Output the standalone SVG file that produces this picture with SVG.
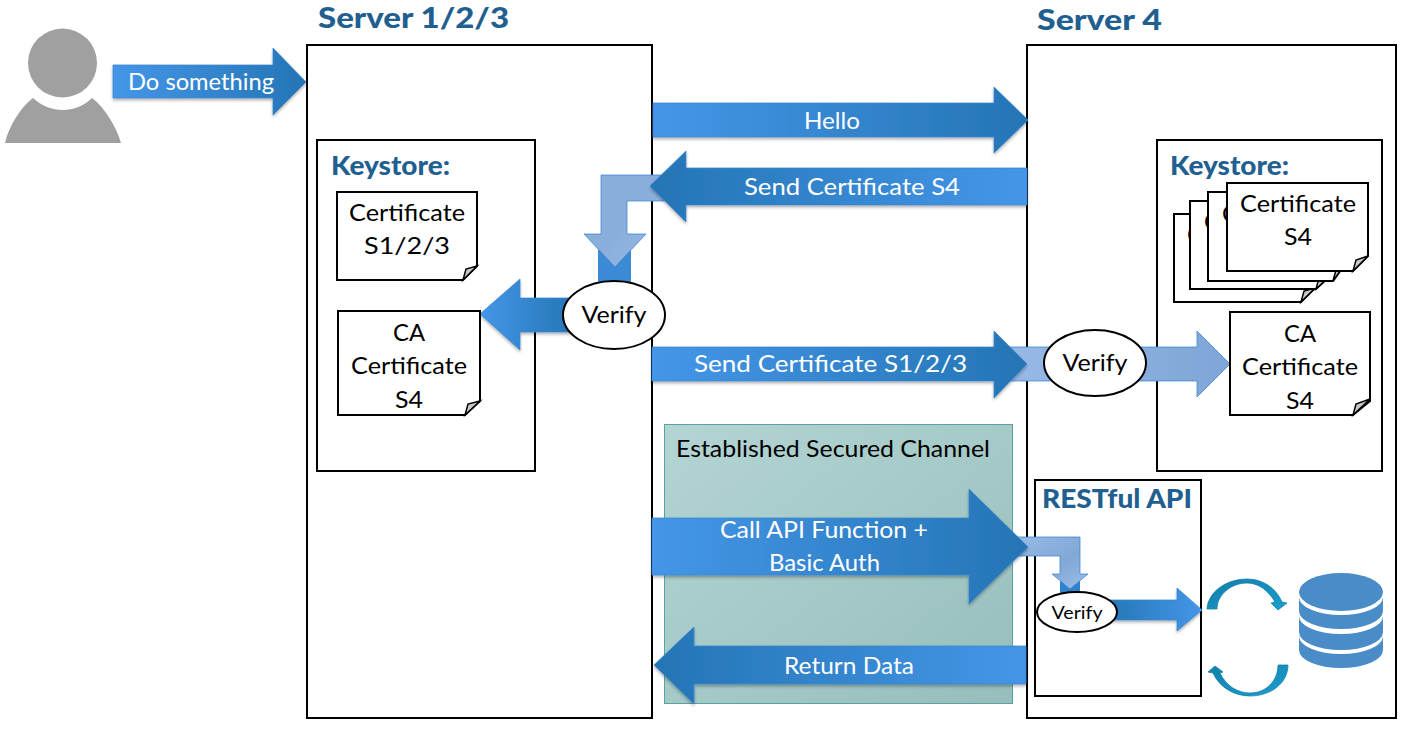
<svg xmlns="http://www.w3.org/2000/svg" width="1409" height="730" viewBox="0 0 1409 730">
<style>
text{font-family:"Lato","Noto Sans",sans-serif;text-anchor:middle}
.box{fill:#fff;stroke:#000;stroke-width:2}
.h{font-weight:900;fill:#1f6091}
.big{font-size:28px}
.mid{font-size:26px}
.t{font-size:24px;fill:#000}
.w{font-size:24px;fill:#fff}
.ar{stroke:#3a86cf;stroke-width:.75}
.fold{fill:#c9c9c9;stroke:#000;stroke-width:1.5}
.e{fill:#fff;stroke:#000;stroke-width:2}
.db{fill:#4a8cc7}
.cy{fill:url(#gc);stroke:#127ea8;stroke-width:.75}
</style>
<defs>
<linearGradient id="gr" x1="0" y1="0" x2="1" y2="0"><stop offset="0" stop-color="#4596e8"/><stop offset="1" stop-color="#2475b5"/></linearGradient>
<linearGradient id="gl" x1="1" y1="0" x2="0" y2="0"><stop offset="0" stop-color="#4596e8"/><stop offset="1" stop-color="#2475b5"/></linearGradient>
<linearGradient id="gb" x1="0" y1="0" x2="1" y2="1"><stop offset="0" stop-color="#8aaedb"/><stop offset=".5" stop-color="#8aaedb"/><stop offset="1" stop-color="#98b9e6"/></linearGradient>
<linearGradient id="gh" x1="0" y1="0" x2="1" y2="0"><stop offset="0" stop-color="#98b9e6"/><stop offset="1" stop-color="#7da5d6"/></linearGradient>
<linearGradient id="gb2" x1="0" y1="0" x2="1" y2="1"><stop offset="0" stop-color="#9cbde8"/><stop offset=".6" stop-color="#82a8d6"/><stop offset="1" stop-color="#9cbde8"/></linearGradient>
<linearGradient id="gs" x1="0" y1="0" x2="1" y2="1"><stop offset="0" stop-color="#b3d5d3"/><stop offset="1" stop-color="#97bebc"/></linearGradient>
<linearGradient id="gc" x1="0" y1="0" x2="1" y2="1"><stop offset="0" stop-color="#127ea8"/><stop offset="1" stop-color="#1a9fd0"/></linearGradient>
<filter id="sh" x="-5%" y="-10%" width="110%" height="125%"><feDropShadow dx="0" dy="2" stdDeviation="1.5" flood-color="#000" flood-opacity=".3"/></filter>
</defs>

<g id="user">
<circle cx="62.500" cy="63" r="34.500" fill="#a0a0a0"/>
<path d="M5 143C9 126 20 108 33 98C50 114 76 114 92 98C105 108 116 126 121 143Z" fill="#a0a0a0"/>
</g>

<g id="server123"><rect class="box" x="307" y="45" width="345" height="673"/>
<text class="h big" x="413.500" y="28" textLength="191" lengthAdjust="spacingAndGlyphs">Server 1/2/3</text></g>
<g id="server4"><rect class="box" x="1027" y="45" width="369" height="673"/>
<text class="h big" x="1099.500" y="30" textLength="125" lengthAdjust="spacingAndGlyphs">Server 4</text></g>

<g id="keystore1"><rect class="box" x="317" y="140" width="218" height="331"/>
<text class="h mid" x="390.500" y="175" textLength="119" lengthAdjust="spacingAndGlyphs">Keystore:</text></g>
<g id="keystore4"><rect class="box" x="1157" y="140" width="225" height="331"/>
<text class="h mid" x="1229.500" y="175" textLength="119" lengthAdjust="spacingAndGlyphs">Keystore:</text></g>

<g id="channel"><rect x="664.500" y="424.500" width="348" height="279" fill="url(#gs)" stroke="#5aa39f"/>
<text class="t" x="833" y="457" textLength="314" lengthAdjust="spacingAndGlyphs">Established Secured Channel</text></g>

<g id="restful"><rect class="box" x="1035" y="480" width="166" height="216"/>
<text class="h mid" x="1117" y="508" textLength="150" lengthAdjust="spacingAndGlyphs">RESTful API</text></g>

<g id="connectors">
<path class="ar" filter="url(#sh)" fill="url(#gr)" d="M113 65H273V48L306 82L273 115V98H113Z"/>
<path class="ar" filter="url(#sh)" fill="url(#gr)" d="M653 103H994V87L1028 120L994 153V137H653Z"/>
<path class="ar" fill="url(#gh)" d="M1010 347H1197V331L1230 364L1197 397V381H1010Z"/>
<path class="ar" filter="url(#sh)" fill="url(#gr)" d="M652 347H994V331L1027 364L994 398V381H652Z"/>
<path fill="#3a8ad6" d="M598 250H631V300H598Z"/>
<path class="ar" fill="url(#gb)" d="M601 175H665V201H627V234H646L615 267L584 234H601Z"/>
<path class="ar" filter="url(#sh)" fill="url(#gl)" d="M1027 168V205H686V222L650 186L686 151V168Z"/>
<path class="ar" filter="url(#sh)" fill="url(#gr)" d="M480 314L520 279V298H575V332H520V350Z"/>
<path fill="#2f82cc" d="M1060 563H1080V600H1060Z"/>
<path class="ar" fill="url(#gb2)" d="M1000 537H1080V574H1088L1070 589L1052 574H1060V556H1000Z"/>
<path class="ar" filter="url(#sh)" fill="url(#gr)" d="M652 518H969V489L1028 547L969 604V575H652Z"/>
<path class="ar" filter="url(#sh)" fill="url(#gl)" d="M1026 646V684H694V704L654 665L694 627V646Z"/>
<path class="ar" filter="url(#sh)" fill="url(#gl)" d="M1105 600H1177V588L1202 610L1177 631V620H1105Z"/>
</g>

<g id="labels">
<text class="w" x="201" y="90" textLength="146" lengthAdjust="spacingAndGlyphs">Do something</text>
<text class="w" x="832" y="129" textLength="56" lengthAdjust="spacingAndGlyphs">Hello</text>
<text class="w" x="852" y="195" textLength="216" lengthAdjust="spacingAndGlyphs">Send Certificate S4</text>
<text class="w" x="830.500" y="372" textLength="273" lengthAdjust="spacingAndGlyphs">Send Certificate S1/2/3</text>
<text class="w" x="824" y="538" textLength="208" lengthAdjust="spacingAndGlyphs">Call API Function +</text>
<text class="w" x="824.500" y="571" textLength="111" lengthAdjust="spacingAndGlyphs">Basic Auth</text>
<text class="w" x="849" y="674" textLength="130" lengthAdjust="spacingAndGlyphs">Return Data</text>
</g>

<g id="cert-s123"><path class="box" d="M337 192H477V266L463 280H337Z"/><path class="fold" d="M463 280L466 269L477 266Z"/>
<text class="t" x="407" y="221" textLength="116" lengthAdjust="spacingAndGlyphs">Certificate</text><text class="t" x="407" y="254" textLength="86" lengthAdjust="spacingAndGlyphs">S1/2/3</text></g>
<g id="ca-s4-left"><path class="box" d="M338 311H480V401L465 415H338Z"/><path class="fold" d="M465 415L468 404L480 401Z"/>
<text class="t" x="409" y="341" textLength="32" lengthAdjust="spacingAndGlyphs">CA</text><text class="t" x="409" y="374" textLength="116" lengthAdjust="spacingAndGlyphs">Certificate</text><text class="t" x="409" y="408" textLength="28" lengthAdjust="spacingAndGlyphs">S4</text></g>

<g id="cert-stack">
<path class="box" d="M1174 214H1315V288L1301 302H1174Z"/><path class="fold" d="M1301 302L1304 291L1315 288Z"/>
<text class="t" x="1195" y="243">C</text>
<path class="box" d="M1190 201H1331V275L1316 289H1190Z"/><path class="fold" d="M1316 289L1319 278L1331 275Z"/>
<text class="t" x="1212" y="230">C</text>
<path class="box" d="M1208 192H1343V267L1333 281H1208Z"/><path class="fold" d="M1333 281L1336 270L1343 267Z"/>
<text class="t" x="1230" y="222">C</text>
<path class="box" d="M1227 183H1368V256L1353 271H1227Z"/><path class="fold" d="M1353 271L1356 260L1368 256Z"/>
<text class="t" x="1298" y="212" textLength="116" lengthAdjust="spacingAndGlyphs">Certificate</text><text class="t" x="1298" y="245" textLength="28" lengthAdjust="spacingAndGlyphs">S4</text>
</g>
<g id="ca-s4-right"><path class="box" d="M1230 312H1370V401L1353 415H1230Z"/><path class="fold" d="M1353 415L1356 404L1370 399Z"/>
<text class="t" x="1300" y="342" textLength="32" lengthAdjust="spacingAndGlyphs">CA</text><text class="t" x="1300" y="375" textLength="116" lengthAdjust="spacingAndGlyphs">Certificate</text><text class="t" x="1300" y="409" textLength="28" lengthAdjust="spacingAndGlyphs">S4</text></g>

<g id="verify1"><ellipse class="e" cx="614" cy="315" rx="51" ry="34"/><text class="t" x="614" y="323" textLength="65" lengthAdjust="spacingAndGlyphs">Verify</text></g>
<g id="verify2"><ellipse class="e" cx="1095" cy="363" rx="51" ry="33"/><text class="t" x="1095" y="371" textLength="65" lengthAdjust="spacingAndGlyphs">Verify</text></g>
<g id="verify3"><ellipse class="e" cx="1077" cy="612" rx="40" ry="20"/><text class="t" style="font-size:18px" x="1077" y="619" textLength="51" lengthAdjust="spacingAndGlyphs">Verify</text></g>

<g id="cycle">
<path class="cy" d="M1207 609C1208 592 1226 579 1247 579C1263 579 1276 588 1282 602L1287 603L1278 610L1271 603L1275 602C1268 590 1258 583 1247 583C1231 583 1217 595 1217 609Z"/>
<path class="cy" d="M1288 665C1288 683 1271 696 1250 696C1234 696 1219 687 1213 673L1208 672L1215 666L1223 672L1220 673C1226 686 1238 693 1250 693C1266 693 1278 681 1278 665Z"/>
</g>
<g id="database">
<ellipse class="db" cx="1341" cy="592" rx="42" ry="19"/>
<path class="db" d="M1299 597A42 18 0 0 0 1383 597V611A42 18 0 0 1 1299 611Z"/>
<path class="db" d="M1299 616A42 18 0 0 0 1383 616V632A42 18 0 0 1 1299 632Z"/>
<path class="db" d="M1299 636A42 18 0 0 0 1383 636V650A42 18 0 0 1 1299 650Z"/>
</g>
</svg>
